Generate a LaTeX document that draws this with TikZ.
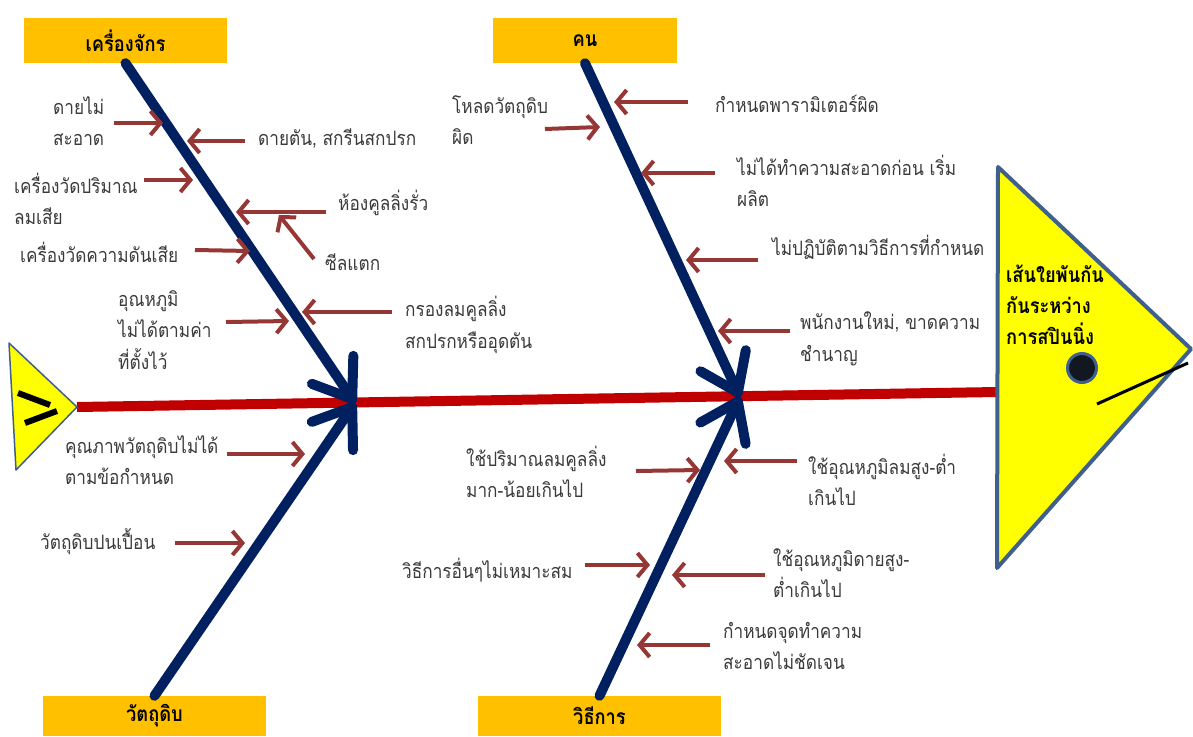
\documentclass[tikz,border=0pt]{standalone}
\usepackage{fontspec}
\newfontfamily\thaifont[Script=Thai,FakeStretch=0.87]{Loma}
\usetikzlibrary{arrows.meta}
\definecolor{catfill}{HTML}{FFC000}
\definecolor{bonenavy}{HTML}{002060}
\definecolor{spinered}{HTML}{C00000}
\definecolor{causered}{HTML}{953735}
\definecolor{headyellow}{HTML}{FFFF00}
\definecolor{headedge}{HTML}{3F5F8C}
\definecolor{eyefill}{HTML}{111822}
\definecolor{labelgray}{HTML}{3A3A3A}
\begin{document}
\begin{tikzpicture}[x=1pt,y=-1pt,
  catbox/.style={fill=catfill, draw=none, inner sep=0pt,
    font=\thaifont\bfseries\fontsize{21}{24}\selectfont, text=black},
  bone/.style={draw=bonenavy, line width=10pt, line cap=round,
    -{Straight Barb[length=35pt,width=50pt,round]}},
  cause/.style={draw=causered, line width=4pt,
    -{Straight Barb[length=10pt,width=24pt]}},
  lbl/.style={anchor=west, inner sep=0pt, align=left, text=labelgray,
    font=\thaifont\fontsize{19.8}{31.5}\selectfont},
  headlbl/.style={anchor=west, inner sep=0pt, align=left, text=black,
    font=\thaifont\bfseries\fontsize{21}{31}\selectfont},
]
\useasboundingbox (0,0) rectangle (1193,736);

% category boxes
\node[catbox, minimum width=203pt, minimum height=45pt] (mach) at (125.5,40.5) {เครื่องจักร};
\node[catbox, minimum width=184pt, minimum height=45pt] (man)  at (585,40.5) {คน};
\node[catbox, minimum width=223pt, minimum height=40pt] (mat)  at (154.5,716) {วัตถุดิบ};
\node[catbox, minimum width=243pt, minimum height=40pt] (meth) at (599.5,716) {วิธีการ};

% spine
\coordinate (tail) at (77,407);
\coordinate (head) at (997,392);
\coordinate (J1) at (355,403);
\coordinate (J2) at (740,397);
\draw[spinered, line width=10pt] (tail) -- (head);

% main bones
\draw[bone] (mach.south) -- (J1);
\draw[bone] (mat.north) -- (J1);
\draw[bone] (man.south) -- (J2);
\draw[bone] (meth.north) -- (J2);

% tail fin
\draw[headedge, line width=1.5pt, fill=headyellow, line join=round]
  (9,343) -- (tail) -- (16,470) -- cycle;
\draw[black, line width=6pt] (18,393) -- (50,405);
\draw[black, line width=6pt] (25,423) -- (57,411);

% head
\draw[headedge, line width=4pt, fill=headyellow, line join=round]
  (998,167) -- (1191,349) -- (997,568) -- cycle;
\node[headlbl] (effect) at (1006,305) {เส้นใยพันกัน\\กันระหว่าง\\การสปินนิ่ง};
\draw[headedge, line width=3pt, fill=eyefill] (1082,368) circle (14.5pt);
\draw[black, line width=3pt] (1097,404) -- (1188,363);

% machine causes
\node[lbl] (c1) at (53,121) {ดายไม่\\สะอาด};
\draw[cause] (114,123) -- (163,123);
\node[lbl] (c2) at (258,139) {ดายตัน, สกรีนสกปรก};
\draw[cause] (245,141) -- (187,141);
\node[lbl] (c3) at (14,199) {เครื่องวัดปริมาณ\\ลมเสีย};
\draw[cause] (144,180) -- (193,180);
\node[lbl] (c4) at (338,203) {ห้องคูลลิ่งรั่ว};
\draw[cause] (326,212) -- (236,212);
\node[lbl] (c5) at (325,262) {ซีลแตก};
\draw[cause] (314,259) -- (279,215);
\node[lbl] (c6) at (20,252) {เครื่องวัดความดันเสีย};
\draw[cause] (195,250) -- (250,251);
\node[lbl] (c7) at (118,330) {อุณหภูมิ\\ไม่ได้ตามค่า\\ที่ตั้งไว้};
\draw[cause] (226,322) -- (289,321);
\node[lbl] (c8) at (405,325) {กรองลมคูลลิ่ง\\สกปรกหรืออุดตัน};
\draw[cause] (392,312) -- (302,312);

% material causes
\node[lbl] (c9) at (65,460) {คุณภาพวัตถุดิบไม่ได้\\ตามข้อกำหนด};
\draw[cause] (227,454) -- (305,454);
\node[lbl] (c10) at (40,542) {วัตถุดิบปนเปื้อน};
\draw[cause] (175,543) -- (245,543);

% people causes
\node[lbl] (c11) at (452,120) {โหลดวัตถุดิบ\\ผิด};
\draw[cause] (545,129) -- (600,127);
\node[lbl] (c12) at (715,104) {กำหนดพารามิเตอร์ผิด};
\draw[cause] (688,102) -- (614,102);
\node[lbl] (c13) at (737,181) {ไม่ได้ทำความสะอาดก่อน เริ่ม\\ผลิต};
\draw[cause] (715,173) -- (641,173);
\node[lbl] (c14) at (772,247) {ไม่ปฏิบัติตามวิธีการที่กำหนด};
\draw[cause] (758,260) -- (686,260);
\node[lbl] (c15) at (800,339) {พนักงานใหม่, ขาดความ\\ชำนาญ};
\draw[cause] (790,331) -- (718,331);

% method causes
\node[lbl] (c16) at (466,472) {ใช้ปริมาณลมคูลลิ่ง\\มาก-น้อยเกินไป};
\draw[cause] (636,471) -- (700,470);
\node[lbl] (c17) at (808,480) {ใช้อุณหภูมิลมสูง-ต่ำ\\เกินไป};
\draw[cause] (797,461) -- (724,461);
\node[lbl] (c18) at (402,570) {วิธีการอื่นๆไม่เหมาะสม};
\draw[cause] (585,565) -- (650,565);
\node[lbl] (c19) at (773,573) {ใช้อุณหภูมิดายสูง-\\ต่ำเกินไป};
\draw[cause] (765,575) -- (672,575);
\node[lbl] (c20) at (723,646) {กำหนดจุดทำความ\\สะอาดไม่ชัดเจน};
\draw[cause] (710,645) -- (637,645);
\end{tikzpicture}
\end{document}
